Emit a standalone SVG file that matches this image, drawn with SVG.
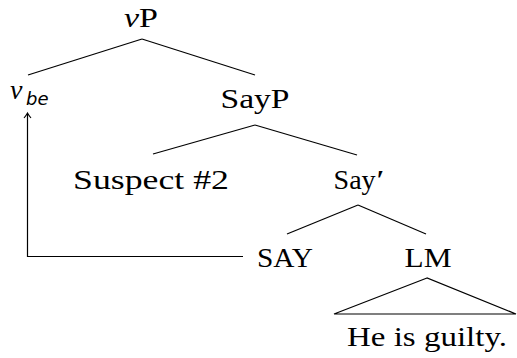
<svg xmlns="http://www.w3.org/2000/svg" width="517" height="358" viewBox="0 0 517 358">
<defs>
<marker id="ah" markerWidth="12" markerHeight="12" refX="0" refY="0" orient="auto" markerUnits="userSpaceOnUse" overflow="visible">
<path d="M-4,-3.5 Q-1,-1 1,0 Q-1,1 -4,3.5" fill="none" stroke="#000" stroke-width="1.1"/>
</marker>
</defs>
<rect width="517" height="358" fill="#fff"/>
<g id="connectors" stroke="#000" stroke-width="1.2" fill="none">
<line x1="142" y1="39" x2="28" y2="75"/>
<line x1="142" y1="39" x2="255" y2="75"/>
<line x1="255" y1="125" x2="153" y2="154"/>
<line x1="255" y1="125" x2="357" y2="155"/>
<line x1="358" y1="205" x2="287" y2="234"/>
<line x1="358" y1="205" x2="426" y2="234"/>
<path d="M427,278 L334,314 L516,314 Z"/>
<path d="M243,256.5 H27.5 V114" marker-end="url(#ah)"/>
</g>
<g id="vP"><text x="141" y="27" font-family="Liberation Serif" font-size="28" text-anchor="middle" textLength="34" lengthAdjust="spacingAndGlyphs"><tspan font-style="italic">v</tspan>P</text></g>
<g id="vbe"><text x="10" y="99" font-family="Liberation Serif" font-size="28" font-style="italic">v</text><text x="26" y="105" font-family="DejaVu Sans" font-size="18" font-style="italic">be</text></g>
<g id="SayP"><text x="255" y="108" font-family="Liberation Serif" font-size="28" text-anchor="middle" textLength="69" lengthAdjust="spacingAndGlyphs">SayP</text></g>
<g id="Suspect2"><text x="151" y="189" font-family="Liberation Serif" font-size="28" text-anchor="middle" textLength="156" lengthAdjust="spacingAndGlyphs">Suspect #2</text></g>
<g id="SayBar"><text x="359" y="189" font-family="Liberation Serif" font-size="28" text-anchor="middle">Say<tspan font-weight="bold" dx="1">′</tspan></text></g>
<g id="SAY"><text x="285" y="267" font-family="Liberation Serif" font-size="28" text-anchor="middle" textLength="56" lengthAdjust="spacingAndGlyphs">SAY</text></g>
<g id="LM"><text x="428" y="267" font-family="Liberation Serif" font-size="28" text-anchor="middle" textLength="47" lengthAdjust="spacingAndGlyphs">LM</text></g>
<g id="HeIsGuilty"><text x="427" y="346" font-family="Liberation Serif" font-size="28" text-anchor="middle" textLength="160" lengthAdjust="spacingAndGlyphs">He is guilty.</text></g>
</svg>
